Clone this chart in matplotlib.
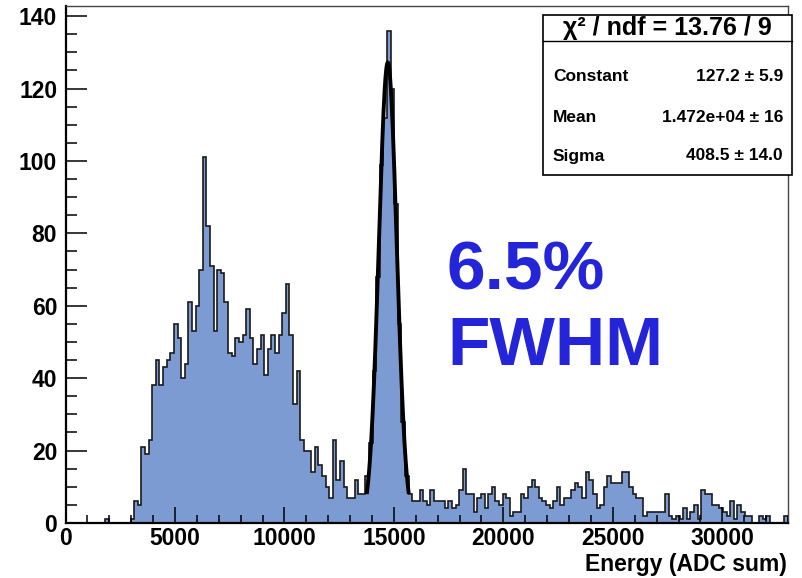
import numpy as np
import matplotlib.pyplot as plt
from matplotlib.patches import Rectangle
from matplotlib.lines import Line2D
from matplotlib.ticker import MultipleLocator

plt.rcParams['font.family'] = ['Liberation Sans', 'DejaVu Sans']
plt.rcParams['font.weight'] = 'bold'

# histogram: 200 bins from 0 to 33000 ADC
n_bins = 200
x_min, x_max = 0, 33000
counts = [
    0, 0, 0, 0, 0, 0, 0, 0, 0, 0,
    0, 1, 0, 0, 0, 0, 0, 0, 1, 6,
    5, 21, 19, 23, 38, 45, 38, 43, 45, 47,
    55, 51, 40, 44, 61, 53, 60, 70, 101, 82,
    71, 53, 70, 69, 61, 47, 46, 51, 50, 52,
    59, 51, 44, 48, 52, 41, 48, 52, 47, 52,
    58, 66, 52, 33, 42, 23, 20, 20, 14, 21,
    16, 13, 10, 7, 23, 12, 17, 10, 7, 7,
    12, 8, 8, 13, 22, 42, 68, 99, 112, 136,
    120, 88, 55, 28, 13, 8, 6, 6, 9, 6,
    5, 9, 6, 6, 6, 4, 6, 4, 5, 9,
    15, 8, 8, 3, 7, 8, 4, 8, 10, 6,
    5, 8, 7, 2, 3, 3, 8, 7, 10, 12,
    10, 7, 6, 5, 4, 6, 10, 5, 7, 7,
    9, 11, 10, 7, 14, 12, 8, 4, 5, 10,
    13, 11, 11, 11, 14, 14, 10, 8, 7, 7,
    2, 3, 3, 3, 3, 3, 8, 2, 1, 2,
    1, 4, 1, 3, 5, 1, 9, 8, 8, 5,
    5, 4, 3, 2, 6, 1, 5, 3, 2, 2,
    0, 0, 2, 1, 2, 0, 0, 0, 0, 2,
]

# gaussian fit result
fit_const = 127.2
fit_mean = 14720
fit_sigma = 408.5
fit_lo, fit_hi = 13770, 15670

stat_title = "\u03c7\u00b2 / ndf = 13.76 / 9"
stat_names = ["Constant", "Mean", "Sigma"]
stat_values = ["127.2 \u00b1 5.9", "1.472e+04 \u00b1 16", "408.5 \u00b1 14.0"]

fill_color = '#7b9bd2'
text_blue = '#2424d8'

edges = np.linspace(x_min, x_max, n_bins + 1)

fig = plt.figure(figsize=(8.03, 5.78), dpi=100)
ax = fig.add_axes([0.0816, 0.0952, 0.8997, 0.8944])

ax.stairs(counts, edges, fill=True, color=fill_color, lw=0)
ax.stairs(counts, edges, color='#1a1a1a', lw=1.2)

xf = np.linspace(fit_lo, fit_hi, 300)
yf = fit_const * np.exp(-0.5 * ((xf - fit_mean) / fit_sigma) ** 2)
ax.plot(xf, yf, color='black', lw=2.8)

ax.set_xlim(x_min, x_max)
ax.set_ylim(0, 142.8)

ax.xaxis.set_major_locator(MultipleLocator(5000))
ax.xaxis.set_minor_locator(MultipleLocator(1000))
ax.yaxis.set_major_locator(MultipleLocator(20))
ax.yaxis.set_minor_locator(MultipleLocator(5))

ax.tick_params(axis='both', which='both', direction='in', width=1.1, color='black',
               labelsize=16.5)
ax.tick_params(axis='y', which='major', length=15, pad=6)
ax.tick_params(axis='y', which='minor', length=8)
ax.tick_params(axis='x', which='major', length=11.5, pad=3)
ax.tick_params(axis='x', which='minor', length=6)

for side in ['left', 'bottom']:
    ax.spines[side].set_linewidth(1.6)
    ax.spines[side].set_color('black')
for side in ['top', 'right']:
    ax.spines[side].set_linewidth(1.0)
    ax.spines[side].set_color('#444444')

fig.text(787 / 803, 1 - 565 / 578, "Energy (ADC sum)", ha='right', va='center',
         fontsize=16.5)

# big annotation
fig.text(447 / 803, 1 - 290 / 578, "6.5%", ha='left', va='baseline',
         fontsize=50, color=text_blue)
fig.text(447 / 803, 1 - 365 / 578, "FWHM", ha='left', va='baseline',
         fontsize=50, color=text_blue)

# stats box
bx0, bx1 = 543 / 803, 792 / 803
by0, by1 = 1 - 175 / 578, 1 - 15 / 578
fig.patches.append(Rectangle((bx0, by0), bx1 - bx0, by1 - by0, transform=fig.transFigure,
                             facecolor='white', edgecolor='black', lw=1.2, zorder=5))
fig.lines.append(Line2D([bx0, bx1], [1 - 41 / 578] * 2, transform=fig.transFigure,
                        color='black', lw=1.0, zorder=6))
fig.text((bx0 + bx1) / 2, 1 - 28.5 / 578, stat_title, ha='center', va='center',
         fontsize=18, zorder=7)
row_y = [77, 117, 156]
for name, val, yy in zip(stat_names, stat_values, row_y):
    fig.text(553 / 803, 1 - yy / 578, name, ha='left', va='center', fontsize=12.5, zorder=7)
    fig.text(783 / 803, 1 - yy / 578, val, ha='right', va='center', fontsize=12.5, zorder=7)

fig.savefig('out.png', dpi=100)
